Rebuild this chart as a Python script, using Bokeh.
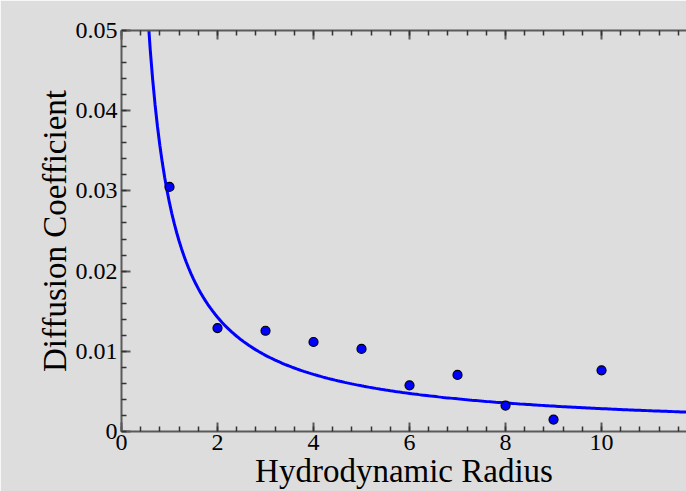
from bokeh.plotting import figure
from bokeh.models import FixedTicker, LinearAxis, CustomJSTickFormatter, Range1d
from bokeh.embed import file_html
from bokeh.resources import INLINE

# Data
radius = [1, 2, 3, 4, 5, 6, 7, 8, 9, 10]
diffusion = [0.0305, 0.0129, 0.01256, 0.01116, 0.0103, 0.00576, 0.00705, 0.00323, 0.00149, 0.00763]

# Fitted model D = k / r (k)
fit_k = 0.0285
fit_r = [0.5 + i * 0.05 for i in range(240)]
fit_d = [fit_k / r for r in fit_r]

x_major = [0, 2, 4, 6, 8, 10, 12]
x_minor = [i * 0.4 for i in range(31)]
y_major = [0, 0.01, 0.02, 0.03, 0.04, 0.05]
y_minor = [i * 0.002 for i in range(26)]

BG = "#dddddd"
AX = "#5a5a5a"
FONT = "Liberation Serif"

p = figure(width=686, height=491, output_backend="svg", toolbar_location=None,
           x_range=Range1d(0, 11.77), y_range=Range1d(0, 0.05),
           min_border_left=121, min_border_top=30, min_border_right=0, min_border_bottom=59)
p.background_fill_color = BG
p.border_fill_color = BG
p.outline_line_color = None
p.grid.visible = False

p.line(fit_r, fit_d, line_color="#0000ff", line_width=3)
p.scatter(radius, diffusion, size=9, fill_color="#0000ff", line_color="black", line_width=1.2)

def style(ax):
    ax.axis_line_color = AX
    ax.axis_line_width = 2
    ax.major_tick_line_color = AX
    ax.minor_tick_line_color = "#333333"
    ax.major_tick_line_width = 2
    ax.minor_tick_line_width = 1.5
    ax.major_tick_in = 9
    ax.major_tick_out = 0
    ax.minor_tick_in = 5
    ax.minor_tick_out = 0
    ax.major_label_text_font = FONT
    ax.major_label_text_font_size = "24px"
    ax.major_label_text_color = "black"
    ax.axis_label_text_font = FONT
    ax.axis_label_text_font_size = "33px"
    ax.axis_label_text_font_style = "normal"
    ax.axis_label_text_color = "black"

xb = p.xaxis[0]
xb.ticker = FixedTicker(ticks=x_major, minor_ticks=x_minor)
xb.axis_label = "Hydrodynamic Radius"
style(xb)
xb.major_label_standoff = 3
xb.axis_label_standoff = 0

yl = p.yaxis[0]
yl.ticker = FixedTicker(ticks=y_major, minor_ticks=y_minor)
yl.formatter = CustomJSTickFormatter(code="return tick == 0 ? '0' : tick.toFixed(2);")
yl.axis_label = "Diffusion Coefficient"
style(yl)
yl.major_label_standoff = 4
yl.axis_label_standoff = 0

top = LinearAxis(ticker=FixedTicker(ticks=x_major, minor_ticks=x_minor))
style(top)
top.formatter = CustomJSTickFormatter(code="return '';")
top.major_label_standoff = 0
p.add_layout(top, "above")

open("out.html", "w").write(file_html(p, INLINE))
